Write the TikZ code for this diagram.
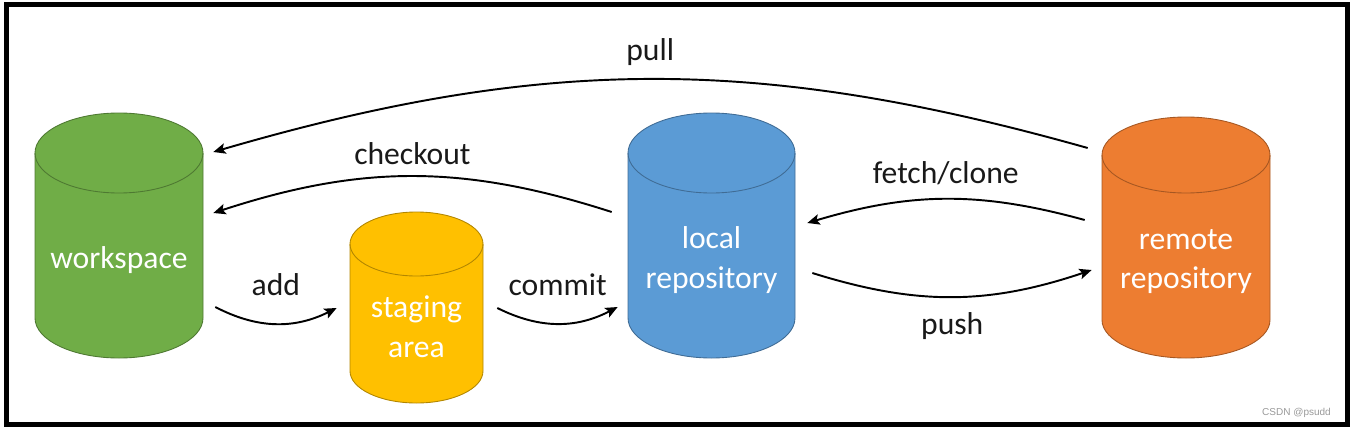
\documentclass[tikz,border=0pt]{standalone}
\usepackage{fontspec}
\setmainfont{Carlito}
\newfontfamily\wmfont{Liberation Sans}
\usetikzlibrary{calc, arrows.meta}

\definecolor{wsgreen}{HTML}{70AD47}
\definecolor{stgold}{HTML}{FFC000}
\definecolor{lrblue}{HTML}{5B9BD5}
\definecolor{rrorange}{HTML}{ED7D31}

\begin{document}
\begin{tikzpicture}[x=0.02cm, y=0.02cm,
    flow/.style={line width=1.1pt, -{Stealth[length=7pt, width=6pt, inset=1.5pt]}},
    lbl/.style={font=\fontsize{18}{22}\selectfont, text=black!90},
    cyltxt/.style={font=\fontsize{18}{22.7}\selectfont, text=white, align=center}]

    \useasboundingbox (0,0) rectangle (1352,427);
    \draw[line width=2.8pt] (6.5,2.5) rectangle (1347.5,422.5);

    % the four stores: name/centre x/top/bottom/x radius/y radius/colour/text
    \foreach \nm/\cx/\ty/\by/\rx/\ry/\col/\txt in {
        work/119/314/69/84/40/wsgreen/{workspace},
        stage/416.5/215/24/66.5/32/stgold/{staging\\area},
        local/711.5/314/69/83.5/40/lrblue/{local\\repository},
        remote/1186/310/69/84/38/rrorange/{remote\\repository}} {
        \fill[\col] (\cx-\rx,\ty-\ry) -- (\cx-\rx,\by+\ry)
            arc[start angle=180, end angle=360, x radius=\rx, y radius=\ry]
            -- (\cx+\rx,\ty-\ry)
            arc[start angle=0, end angle=180, x radius=\rx, y radius=\ry] -- cycle;
        \draw[\col!70!black, line width=0.5pt] (\cx-\rx,\ty-\ry) -- (\cx-\rx,\by+\ry)
            arc[start angle=180, end angle=360, x radius=\rx, y radius=\ry]
            -- (\cx+\rx,\ty-\ry);
        \draw[\col!70!black, line width=0.5pt] (\cx,\ty-\ry) ellipse[x radius=\rx, y radius=\ry];
        \node[inner sep=0, minimum width=\rx*0.04cm, minimum height=(\ty-\by)*0.02cm]
            (\nm) at (\cx,{(\ty+\by)/2}) {};
        \node[cyltxt] (\nm-txt) at (\cx,{\by+0.4*(\ty-\by)}) {\txt};
    }

    \draw[flow] ($(remote.west)+(-14,89.5)$) to[bend right=16]
        node[lbl, above=4pt] (pull) {pull} ($(work.east)+(10,83.5)$);
    \draw[flow] ($(local.west)+(-16,23.5)$) to[bend right=18]
        node[lbl, above=3pt] (checkout) {checkout} ($(work.east)+(10,22.5)$);
    \draw[flow] ($(remote.west)+(-17,17.5)$) to[bend right=16]
        node[lbl, above=4pt] (fetch) {fetch/clone} ($(local.east)+(12,12.5)$);
    \draw[flow] ($(local.east)+(17,-37.5)$) to[bend right=18]
        node[lbl, below=5pt] (push) {push} ($(remote.west)+(-10,-32.5)$);
    \draw[flow] ($(work.east)+(12,-71.5)$) to[bend right=27]
        node[lbl, above=12pt] (add) {add} ($(stage.west)+(-13,-0.5)$);
    \draw[flow] ($(stage.east)+(14,-0.5)$) to[bend right=27]
        node[lbl, above=12pt] (commit) {commit} ($(local.west)+(-10,-71.5)$);

    \node[font=\wmfont\fontsize{5.7}{6}\selectfont, text=gray!80, anchor=east]
        (mark) at (1337,14.5) {CSDN @psudd};
\end{tikzpicture}
\end{document}
